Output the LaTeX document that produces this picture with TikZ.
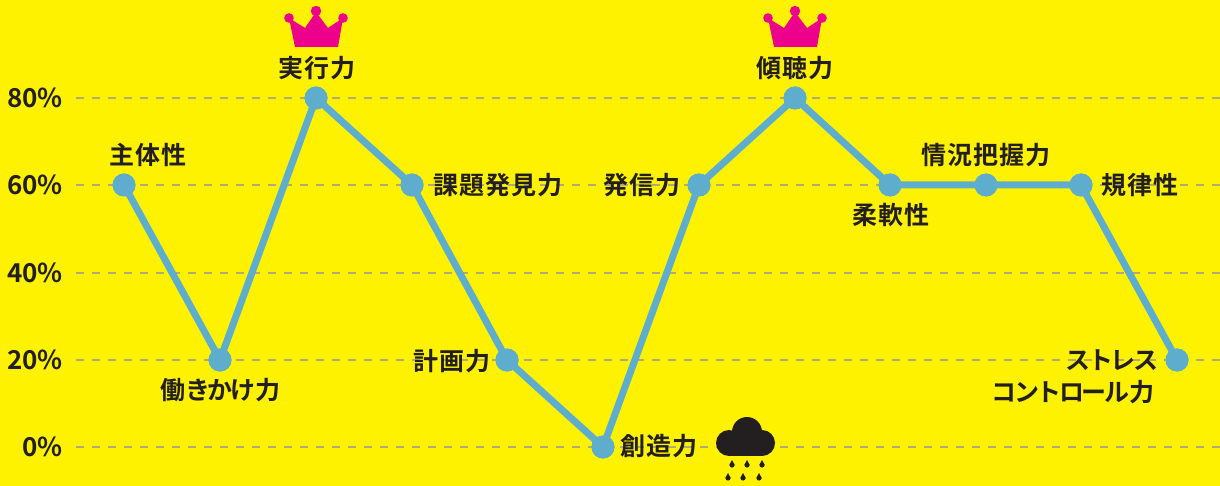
\documentclass[tikz,border=0pt]{standalone}
\usepackage{fontspec}
\newfontfamily\jpf[LetterSpace=4]{Noto Sans CJK JP Bold}
\newfontfamily\jpk[LetterSpace=-10]{Noto Sans CJK JP Bold}
\newfontfamily\numf{Noto Sans CJK JP Bold}
\definecolor{bgy}{HTML}{FFF200}
\definecolor{ptb}{HTML}{5EADCD}
\definecolor{crownp}{HTML}{EC008C}
\definecolor{ink}{HTML}{231F20}
\definecolor{dashg}{HTML}{B0AC6E}
\tikzset{
 pt/.style={circle,fill=ptb,minimum size=23pt,inner sep=0pt},
 lab/.style={font=\jpf\fontsize{25}{28}\selectfont,text=ink,inner sep=0pt},
 ax/.style={font=\numf\fontsize{26}{28}\selectfont,text=ink,inner sep=0pt,anchor=east},
 grid/.style={dashg,line width=1.6pt,dash pattern=on 8pt off 8pt},
 link/.style={ptb,line width=7pt,line join=round},
 pics/crown/.style={code={
   \fill[crownp] (-27,7) -- (-11,17) -- (0,1) -- (12,17) -- (27,7) -- (22,36) -- (-21,36) -- cycle;
   \fill[crownp] (-27,7) circle (4.8) (0,0) circle (5.2) (27,7) circle (4.8);
 }},
 pics/cloud/.style={code={
   \fill[ink] (-17,7) circle (13) (16,7) circle (13) (1,-4) circle (15);
   \fill[ink] (-17,0) rectangle (16,20);
 }},
 pics/drop/.style={code={
   \fill[ink] (0,-4) -- (2.4,0.6) -- (-2.4,0.6) -- cycle;
   \fill[ink] (0,1) circle (2.6);
 }}
}
\begin{document}
\begin{tikzpicture}[x=1pt,y=-1pt]
\fill[bgy] (0,0) rectangle (1220,486);
\useasboundingbox (0,0) rectangle (1220,486);
\foreach \n/\y/\t in {a/98/80,b/185/60,c/273/40,d/360/20,e/447/0}{
  \node[ax] (ax\n) at (63,\y) {\t\%};
  \coordinate (gl\n) at (76,\y);
  \coordinate (gr\n) at (1220,\y);
  \draw[grid] (gl\n) -- (gr\n);
}
\node[pt] (p1) at (124,185) {};
\node[pt] (p2) at (220,360) {};
\node[pt] (p3) at (316,98) {};
\node[pt] (p4) at (412,185) {};
\node[pt] (p5) at (507,360) {};
\node[pt] (p6) at (603,447) {};
\node[pt] (p7) at (699,185) {};
\node[pt] (p8) at (795,98) {};
\node[pt] (p9) at (890,185) {};
\node[pt] (p10) at (986,185) {};
\node[pt] (p11) at (1081,185) {};
\node[pt] (p12) at (1177,360) {};
\draw[link] (p1.center) -- (p2.center) -- (p3.center) -- (p4.center) -- (p5.center) -- (p6.center) -- (p7.center) -- (p8.center) -- (p9.center) -- (p10.center) -- (p11.center) -- (p12.center);
\foreach \x/\y in {124/185,220/360,316/98,412/185,507/360,603/447,699/185,795/98,890/185,986/185,1081/185,1177/360}{
  \fill[ptb] (\x,\y) circle (11.5);
}
\node[lab] (l1) at (148,155) {主体性};
\node[lab] (l2) at (220,390) {働{\jpk きかけ}力};
\node[lab] (l3) at (317,68) {実行力};
\node[lab] (l4) at (498,185) {課題発見力};
\node[lab] (l5) at (452,361) {計画力};
\node[lab] (l6) at (659,446) {創造力};
\node[lab] (l7) at (642,185) {発信力};
\node[lab] (l8) at (795,68) {傾聴力};
\node[lab] (l9) at (891,215) {柔軟性};
\node[lab] (l10) at (986,155) {情況把握力};
\node[lab] (l11) at (1140,185) {規律性};
\node[lab,font=\jpk\fontsize{25}{28}\selectfont] (l12) at (1112,360) {ストレス};
\node[lab,font=\jpk\fontsize{25}{28}\selectfont] (l13) at (1073,392) {コントロール{\jpf 力}};
\pic at (316,11) {crown};
\pic at (795,11) {crown};
\pic at (746,436) {cloud};
\foreach \x in {732,747,762}{\pic at (\x,464) {drop};}
\foreach \x in {728,743,759}{\pic at (\x,477) {drop};}
\end{tikzpicture}
\end{document}
